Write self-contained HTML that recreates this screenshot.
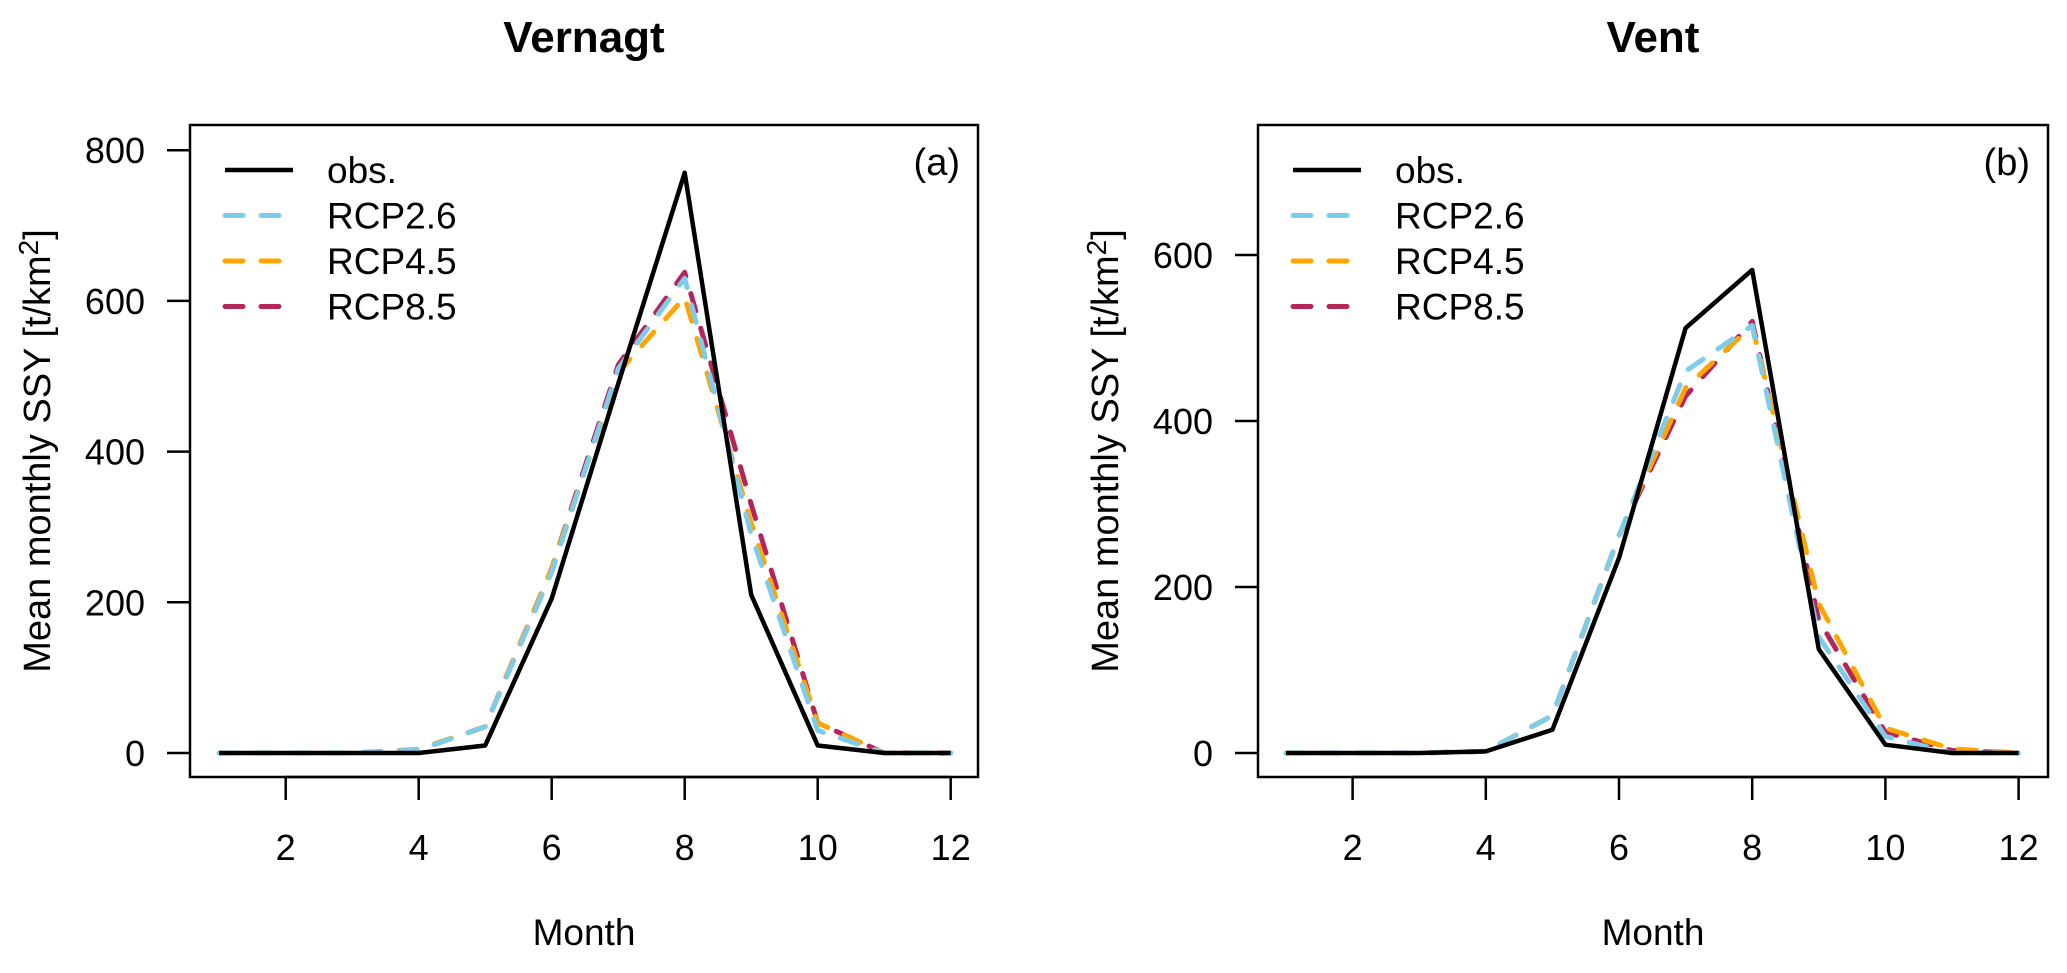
<!DOCTYPE html>
<html><head><meta charset="utf-8"><style>
body{margin:0;background:#fff}
svg text{font-family:"Liberation Sans",Arial,sans-serif;fill:#000}
</style></head><body>
<svg id="chart" width="2067" height="968" xmlns="http://www.w3.org/2000/svg"></svg>
<script>
const months=[1,2,3,4,5,6,7,8,9,10,11,12];
const xTicks=[2,4,6,8,10,12];
const seriesNames=["obs.","RCP2.6","RCP4.5","RCP8.5"];
const seriesColors=["#000000","#7ecbea","#ffa500","#b5245a"];
const vernagtObs=[0,0,0,0,10,205,490,770,210,10,0,0];
const vernagtRcp26=[0,0,0,4,35,240,510,630,290,30,0,0];
const vernagtRcp45=[0,0,0,5,35,245,505,605,305,40,0,0];
const vernagtRcp85=[0,0,0,4,35,245,515,638,330,40,0,0];
const ventObs=[0,0,0,2,28,235,512,582,125,10,0,0];
const ventRcp26=[0,0,0,2,45,262,460,515,140,20,0,0];
const ventRcp45=[0,0,0,2,45,262,440,515,180,30,5,0];
const ventRcp85=[0,0,0,2,45,262,430,520,160,25,3,0];
const vernagtYTicks=[0,200,400,600,800];
const ventYTicks=[0,200,400,600];

const svg=document.getElementById('chart');
const NS="http://www.w3.org/2000/svg";
function mk(tag,attrs,parent){const e=document.createElementNS(NS,tag);for(const k in attrs)e.setAttribute(k,attrs[k]);(parent||svg).appendChild(e);return e;}

function panel(p){
  const g=mk('g',{});
  
  
  const xs=m=>p.x1+(m-1)*p.dx;
  const ys=v=>p.y0-v*p.ky;
  const box=mk('rect',{x:p.bx0,y:125,width:p.bx1-p.bx0,height:777-125,fill:'none',stroke:'#000','stroke-width':2.5},g);
  
  
  const t=mk('text',{x:(p.bx0+p.bx1)/2,y:52,'text-anchor':'middle','font-size':44,'font-weight':'bold'},g);
  t.textContent=p.title;
  
  
  xTicks.forEach(m=>{
    mk('line',{x1:xs(m),x2:xs(m),y1:777,y2:800,stroke:'#000','stroke-width':2.5},g);
    const tx=mk('text',{x:xs(m),y:860,'text-anchor':'middle','font-size':36},g);
    tx.textContent=m;
    
    
  });
  mk('line',{x1:xs(xTicks[0]),x2:xs(xTicks[xTicks.length-1]),y1:777,y2:777,stroke:'#000','stroke-width':2.5},g);
  p.yt.forEach(v=>{
    mk('line',{x1:p.bx0-23,x2:p.bx0,y1:ys(v),y2:ys(v),stroke:'#000','stroke-width':2.5},g);
    const ty=mk('text',{x:p.bx0-45,y:ys(v)+13,'text-anchor':'end','font-size':36},g);
    ty.textContent=v;
    
    
  });
  const xl=mk('text',{x:(p.bx0+p.bx1)/2,y:945,'text-anchor':'middle','font-size':37},g);
  xl.textContent='Month';
  
  
  const yl=mk('text',{x:0,y:0,'text-anchor':'middle','font-size':38,transform:`translate(${p.bx0-140},451) rotate(-90)`},g);
  
  
  const t1=mk('tspan',{},yl); t1.textContent='Mean monthly SSY [t/km';
  const t2=mk('tspan',{dy:-12,'font-size':28},yl); t2.textContent='2';
  const t3=mk('tspan',{dy:12},yl); t3.textContent=']';
  const lab=mk('text',{x:p.bx1-18,y:175,'text-anchor':'end','font-size':38},g);
  lab.textContent=p.label;
  
  
  [3,2,1,0].forEach(i=>{
    const pts=p.data[i].map((v,j)=>xs(months[j])+','+ys(v)).join(' ');
    const l=mk('polyline',{points:pts,fill:'none',stroke:seriesColors[i],'stroke-width':i===0?4.5:5,'stroke-linejoin':'round','stroke-linecap':i===0?'butt':'round'},g);
    if(i>0)l.setAttribute('stroke-dasharray','18 18');
    
    
  });
  seriesNames.forEach((n,i)=>{
    const y=170+i*45.5;
    const le=mk('g',{},g);
    
    
    const ln=mk('line',{x1:p.bx0+35,x2:p.bx0+103,y1:y,y2:y,stroke:seriesColors[i],'stroke-width':i===0?4.5:5,'stroke-linecap':i===0?'butt':'round'},le);
    if(i>0)ln.setAttribute('stroke-dasharray','18 18');
    const tt=mk('text',{x:p.bx0+137,y:y+13,'font-size':37},le);
    tt.textContent=n;
  });
}
panel({name:'panel-vernagt',title:'Vernagt',label:'(a)',bx0:190,bx1:978,x1:219.2,dx:66.5,y0:753,ky:0.7535,yt:vernagtYTicks,data:[vernagtObs,vernagtRcp26,vernagtRcp45,vernagtRcp85]});
panel({name:'panel-vent',title:'Vent',label:'(b)',bx0:1258,bx1:2048,x1:1286,dx:66.6,y0:753,ky:0.83,yt:ventYTicks,data:[ventObs,ventRcp26,ventRcp45,ventRcp85]});
</script>
</body></html>
